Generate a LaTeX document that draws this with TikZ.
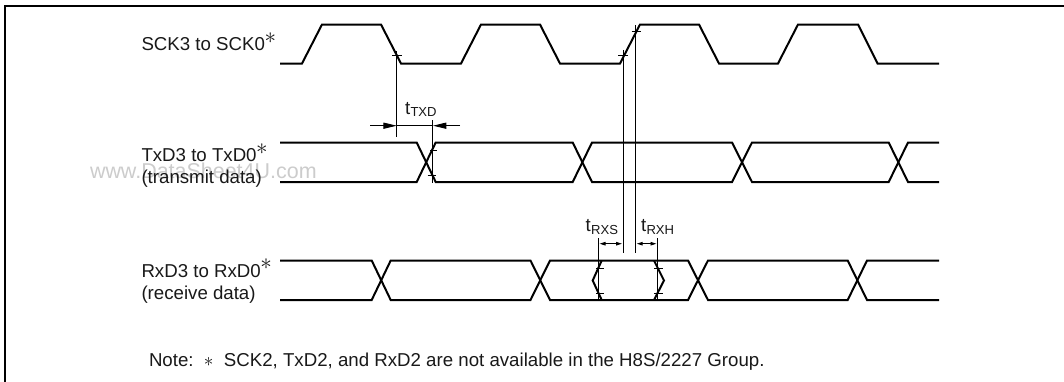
\documentclass[tikz,border=0pt]{standalone}
\usepackage{fontspec}
\setmainfont{Liberation Sans}
\usetikzlibrary{arrows.meta}
\tikzset{
  trace/.style={line width=1.5pt,line join=miter,black},
  thin line/.style={line width=0.7pt,black},
  frameline/.style={line width=1.5pt,black},
  lbl/.style={anchor=base west,inner sep=0pt,outer sep=0pt,font=\fontsize{14}{14}\selectfont,text=black!90},
  subl/.style={anchor=base west,inner sep=0pt,outer sep=0pt,font=\fontsize{9.8}{10}\selectfont,text=black!90},
  wm/.style={anchor=base west,inner sep=0pt,outer sep=0pt,font=\fontsize{16.1}{16}\selectfont,text=black!20},
  bigarrow/.style={-{Triangle[length=10pt,width=4.6pt]}},
  smallarrow/.style={{Triangle[length=4.5pt,width=2.6pt]}-{Triangle[length=4.5pt,width=2.6pt]}}
}
\newcommand{\stx}{\kern-0.3pt\raisebox{5.6pt}{\scalebox{1.2}{$\ast$}}}
\begin{document}
\begin{tikzpicture}[x=0.75pt,y=-0.75pt]
\useasboundingbox (0,0) rectangle (1064,382);
\fill[white] (0,0) rectangle (1064,382);
% frame
\draw[frameline] (5,382) -- (5,5.8) -- (1064,5.8);
% watermark
\node[wm] (wmark) at (90,178) {www.DataSheet4U.com};
% labels
\node[lbl] (sck) at (141.5,50.7) {SCK3 to SCK0\stx};
\node[lbl] (txd) at (141.5,161.7) {TxD3 to TxD0\stx};
\node[lbl] (txd2) at (141.5,183.2) {(transmit data)};
\node[lbl] (rxd) at (141.5,277) {RxD3 to RxD0\stx};
\node[lbl] (rxd2) at (141.5,299.5) {(receive data)};
\node[lbl] (note) at (149,366) {Note:\ \ $\ast$\ \ SCK2, TxD2, and RxD2 are not available in the H8S/2227 Group.};
% clock
\draw[trace] (280,63.5) -- (302,63.5) -- (322,24.5) -- (381,24.5) -- (401,63.5) -- (461,63.5) -- (481,24.5) -- (540,24.5) -- (560,63.5) -- (620,63.5) -- (640,24.5) -- (699,24.5) -- (719,63.5) -- (778,63.5) -- (798,24.5) -- (858,24.5) -- (877.5,63.5) -- (939,63.5);
% TxD
\draw[trace] (280,142.5) -- (416.7,142.5) -- (435.7,182) -- (572.7,182) -- (592,142.5) -- (732,142.5) -- (752,182) -- (888.7,182) -- (908,142.5) -- (939,142.5);
\draw[trace] (280,182) -- (416.7,182) -- (435.7,142.5) -- (572.7,142.5) -- (592,182) -- (732,182) -- (752,142.5) -- (888.7,142.5) -- (908,182) -- (939,182);
% RxD
\draw[trace] (280,260.5) -- (371.7,260.5) -- (390.7,300) -- (530.5,300) -- (550,260.5) -- (688,260.5) -- (708,300) -- (847.7,300) -- (867,260.5) -- (939,260.5);
\draw[trace] (280,300) -- (371.7,300) -- (390.7,260.5) -- (530.5,260.5) -- (550,300) -- (688,300) -- (708,260.5) -- (847.7,260.5) -- (867,300) -- (939,300);
\draw[trace] (601.7,260.5) -- (592.7,280.5) -- (601.7,300);
\draw[trace] (654,260.5) -- (664,280.5) -- (654,300);
% tTXD
\coordinate (a1) at (396.7,51);
\coordinate (a2) at (396.7,136.7);
\coordinate (b1) at (432,120);
\coordinate (b2) at (432,182.7);
\draw[thin line] (a1) -- (a2);
\draw[thin line] (b1) -- (b2);
\draw[thin line] (392.3,55.7) -- (401.7,55.7);
\draw[thin line] (430,150.7) -- (436.7,150.7);
\draw[thin line] (427.7,175) -- (435.7,175);
\coordinate (dl) at (370,125.7);
\coordinate (dr) at (460,125.7);
\coordinate (dm) at (396.7,125.7);
\coordinate (dn) at (433,125.7);
\draw[thin line,bigarrow] (dl) -- (dm);
\draw[thin line,bigarrow] (dr) -- (dn);
\draw[thin line] (dm) -- (dn);
\node[lbl] (ttxd) at (405,114) {t};
\node[subl] (ttxds) at (410.5,116) {TXD};
% tRXS / tRXH
\coordinate (c1) at (623.3,50);
\coordinate (c2) at (623.3,252.7);
\coordinate (e1) at (635.7,25);
\coordinate (e2) at (635.7,252.7);
\coordinate (f1) at (598.7,238);
\coordinate (f2) at (598.7,300);
\coordinate (g1) at (657.3,238);
\coordinate (g2) at (657.3,300);
\draw[thin line] (c1) -- (c2);
\draw[thin line] (e1) -- (e2);
\draw[thin line] (f1) -- (f2);
\draw[thin line] (g1) -- (g2);
\draw[thin line] (618.3,55.7) -- (628.3,55.7);
\draw[thin line] (631.7,31.7) -- (640.7,31.7);
\draw[thin line] (596,268.3) -- (604,268.3);
\draw[thin line] (596,293.3) -- (604,293.3);
\draw[thin line] (654,268.3) -- (662.7,268.3);
\draw[thin line] (654,293.3) -- (662.7,293.3);
\coordinate (h1) at (599.5,243.7);
\coordinate (h2) at (622,243.7);
\coordinate (i1) at (636.7,243.7);
\coordinate (i2) at (656.5,243.7);
\draw[thin line,smallarrow] (h1) -- (h2);
\draw[thin line,smallarrow] (i1) -- (i2);
\node[lbl] (trxs) at (585.7,231.7) {t};
\node[subl] (trxss) at (591.2,234) {RXS};
\node[lbl] (trxh) at (641,231.7) {t};
\node[subl] (trxhs) at (646.5,234) {RXH};
\end{tikzpicture}
\end{document}
